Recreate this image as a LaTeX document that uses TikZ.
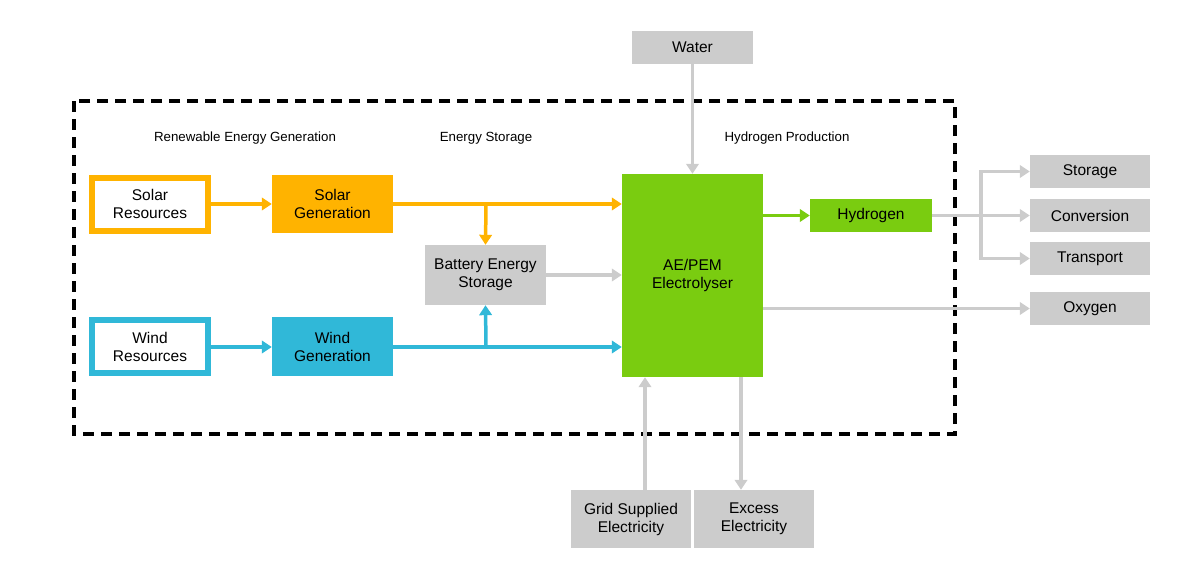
\documentclass[tikz,border=0pt]{standalone}
\usepackage{fontspec}
\setmainfont{Liberation Sans}
\usetikzlibrary{arrows.meta}
\definecolor{sol}{HTML}{FFB300}
\definecolor{wnd}{HTML}{30B8D8}
\definecolor{grn}{HTML}{7ACC10}
\definecolor{gry}{HTML}{CCCCCC}
\begin{document}
\begin{tikzpicture}[x=1pt,y=-1pt,
  lbl/.style={font=\fontsize{15.5}{18}\selectfont, align=center, inner sep=0pt},
  sec/.style={font=\fontsize{13.3}{15}\selectfont, inner sep=0pt},
  arr/.style={line width=3.5pt, -{Triangle[length=10pt,width=12.5pt]}},
  ln/.style={line width=3.5pt},
]
\useasboundingbox (0,0) rectangle (1204,573);
% dashed frame
\draw[line width=4pt, dash pattern=on 11pt off 7pt] (74,101) rectangle (955,434);
% section labels
\node[sec] (t1) at (245,138) {Renewable Energy Generation};
\node[sec] (t2) at (486,138) {Energy Storage};
\node[sec] (t3) at (787,138) {Hydrogen Production};
% nodes
\node[lbl, fill=gry, minimum width=121pt, minimum height=33pt] (water) at (692.5,47.5) {Water};
\node[lbl, draw=sol, line width=6pt, fill=white, minimum width=116pt, minimum height=53pt] (sr) at (150,204) {Solar\\Resources};
\node[lbl, fill=sol, minimum width=121pt, minimum height=58pt] (sg) at (332.5,204) {Solar\\Generation};
\node[lbl, draw=wnd, line width=6pt, fill=white, minimum width=116pt, minimum height=53pt] (wr) at (150,346.5) {Wind\\Resources};
\node[lbl, fill=wnd, minimum width=121pt, minimum height=59pt] (wg) at (332.5,346.5) {Wind\\Generation};
\node[lbl, fill=gry, minimum width=121pt, minimum height=60pt] (bat) at (485.5,275) {Battery Energy\\Storage};
\node[lbl, fill=grn, minimum width=141pt, minimum height=203pt] (el) at (692.5,275.5) {AE/PEM\\Electrolyser};
\node[lbl, fill=grn, minimum width=122pt, minimum height=33pt] (h2) at (871,215.5) {Hydrogen};
\node[lbl, fill=gry, minimum width=120pt, minimum height=33pt] (st) at (1090,171.5) {Storage};
\node[lbl, fill=gry, minimum width=120pt, minimum height=33pt] (cv) at (1090,215.5) {Conversion};
\node[lbl, fill=gry, minimum width=120pt, minimum height=33pt] (tr) at (1090,258.5) {Transport};
\node[lbl, fill=gry, minimum width=120pt, minimum height=33pt] (ox) at (1090,308.5) {Oxygen};
\node[lbl, fill=gry, minimum width=120pt, minimum height=58pt] (grid) at (631,519) {Grid Supplied\\Electricity};
\node[lbl, fill=gry, minimum width=120pt, minimum height=58pt] (exc) at (754,519) {Excess\\Electricity};
% coordinates
\coordinate (sj) at (486,204);
\coordinate (wj) at (486,347);
\coordinate (hj) at (981,215.5);
% connectors
\draw[arr, sol] (sr.east |- 0,204) -- (sg.west |- 0,204);
\draw[arr, sol] (sg.east |- 0,204) -- (el.west |- 0,204);
\draw[arr, sol] (sj) -- (bat.north);
\draw[arr, wnd] (wr.east |- 0,347) -- (wg.west |- 0,347);
\draw[arr, wnd] (wg.east |- 0,347) -- (el.west |- 0,347);
\draw[arr, wnd] (wj) -- (bat.south);
\draw[arr, gry] (bat.east) -- (el.west |- bat.east);
\draw[arr, gry] (water.south) -- (el.north);
\draw[arr, grn] (el.east |- h2.west) -- (h2.west);
\draw[ln, gry] (h2.east) -- (hj);
\draw[arr, gry] (hj) -- (cv.west);
\draw[ln, gry] (hj |- 0,172) -- (hj |- 0,259);
\draw[arr, gry] ([xshift=-1.75pt]hj |- st.west) -- (st.west);
\draw[arr, gry] ([xshift=-1.75pt]hj |- tr.west) -- (tr.west);
\draw[arr, gry] (el.east |- ox.west) -- (ox.west);
\draw[arr, gry] (grid.north -| 645,0) -- (el.south -| 645,0);
\draw[arr, gry] (el.south -| 741,0) -- (exc.north -| 741,0);
\end{tikzpicture}
\end{document}
